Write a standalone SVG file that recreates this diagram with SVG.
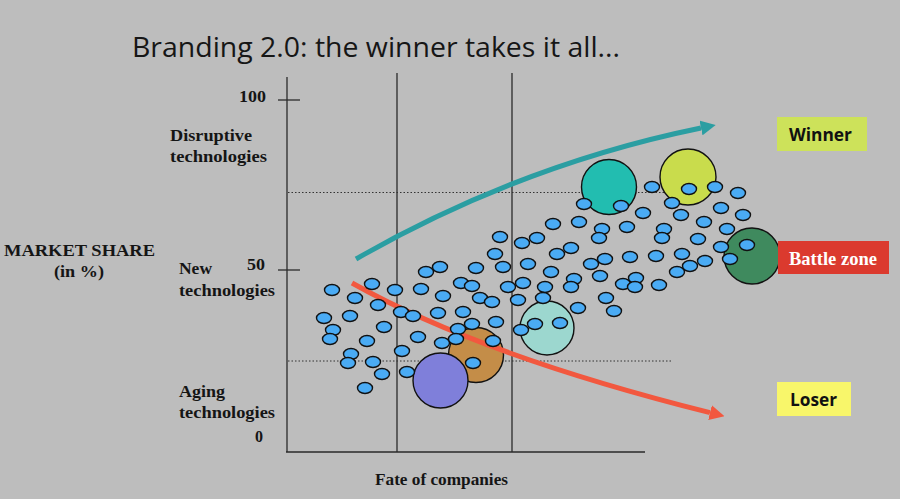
<svg xmlns="http://www.w3.org/2000/svg" width="900" height="499" viewBox="0 0 900 499">
<defs>
<style>
.lbl{font-family:"Liberation Serif","Times New Roman",serif;font-weight:bold;font-size:16.5px;fill:#151515}
.ax{stroke:#2a2a2a;stroke-width:1.3;fill:none}
.dot{stroke:#333;stroke-width:1;stroke-dasharray:1.5 2;fill:none}
.e{fill:#4aabf4;stroke:#111;stroke-width:1.4}
.big{stroke:#111;stroke-width:1.4}
.tag{font-family:"Open Sans","Liberation Sans",sans-serif;font-weight:bold;font-size:18px;fill:#111}
</style>
<marker id="hTeal" markerUnits="userSpaceOnUse" viewBox="0 0 15 15" markerWidth="15" markerHeight="15" refX="0" refY="7.5" orient="auto"><path d="M0,0 L15,7.5 L0,15 z" fill="#2b9ea2"/></marker>
<marker id="hRed" markerUnits="userSpaceOnUse" viewBox="0 0 15 15" markerWidth="15" markerHeight="15" refX="0" refY="7.5" orient="auto"><path d="M0,0 L15,7.5 L0,15 z" fill="#f2583f"/></marker>
</defs>
<rect width="900" height="499" fill="#bdbdbd"/>
<text x="132" y="57" font-family="'Open Sans','Liberation Sans',sans-serif" font-size="28" fill="#161616" textLength="488" lengthAdjust="spacingAndGlyphs">Branding 2.0: the winner takes it all...</text>

<g id="axes">
<line class="ax" x1="287" y1="77" x2="287" y2="452"/>
<line class="ax" x1="286" y1="452" x2="645" y2="452"/>
<line class="ax" x1="397" y1="73" x2="397" y2="452"/>
<line class="ax" x1="512" y1="73" x2="512" y2="452"/>
<line class="ax" x1="278" y1="100" x2="300" y2="100"/>
<line class="ax" x1="278" y1="270" x2="300" y2="270"/>
<line class="dot" x1="288" y1="192.5" x2="672" y2="192.5"/>
<line class="dot" x1="288" y1="361" x2="672" y2="361"/>
</g>

<g id="axis-labels">
<text class="lbl" x="239" y="102" textLength="27" lengthAdjust="spacingAndGlyphs">100</text>
<text class="lbl" x="170" y="141" textLength="82" lengthAdjust="spacingAndGlyphs">Disruptive</text>
<text class="lbl" x="170" y="162" textLength="97" lengthAdjust="spacingAndGlyphs">technologies</text>
<text class="lbl" x="4" y="256" textLength="151" lengthAdjust="spacingAndGlyphs">MARKET SHARE</text>
<text class="lbl" x="54" y="277" textLength="50" lengthAdjust="spacingAndGlyphs">(in %)</text>
<text class="lbl" x="179" y="274" textLength="33" lengthAdjust="spacingAndGlyphs">New</text>
<text class="lbl" x="247" y="270" textLength="18" lengthAdjust="spacingAndGlyphs">50</text>
<text class="lbl" x="179" y="296" textLength="96" lengthAdjust="spacingAndGlyphs">technologies</text>
<text class="lbl" x="179" y="397" textLength="46" lengthAdjust="spacingAndGlyphs">Aging</text>
<text class="lbl" x="179" y="418" textLength="96" lengthAdjust="spacingAndGlyphs">technologies</text>
<text class="lbl" x="255" y="442" textLength="8" lengthAdjust="spacingAndGlyphs">0</text>
<text class="lbl" x="375" y="485" textLength="133" lengthAdjust="spacingAndGlyphs">Fate of companies</text>
</g>

<g id="companies-large">
<circle class="big" cx="609" cy="187" r="27.5" fill="#22bdb0"/>
<circle class="big" cx="688" cy="177" r="28" fill="#c9dc4c"/>
<circle class="big" cx="752" cy="256" r="28" fill="#3f8a5e"/>
<circle class="big" cx="547" cy="328" r="27" fill="#9cd7cf"/>
<circle class="big" cx="476" cy="355" r="27.5" fill="#c48d48"/>
<circle class="big" cx="440.5" cy="380.5" r="27.5" fill="#7f7fda"/>
</g>

<g id="connectors">
<path d="M356,259 Q520,165 701,128" fill="none" stroke="#2b9ea2" stroke-width="5" marker-end="url(#hTeal)"/>
<path d="M352,283 Q480,355 710,412.6" fill="none" stroke="#f2583f" stroke-width="5" marker-end="url(#hRed)"/>
</g>

<g id="companies-small">
<ellipse class="e" cx="426" cy="272" rx="7.5" ry="5.5"/>
<ellipse class="e" cx="440" cy="267" rx="7.5" ry="5.5"/>
<ellipse class="e" cx="476" cy="268" rx="7.5" ry="5.5"/>
<ellipse class="e" cx="372" cy="284" rx="7.5" ry="5.5"/>
<ellipse class="e" cx="332" cy="290" rx="7.5" ry="5.5"/>
<ellipse class="e" cx="395" cy="290" rx="7.5" ry="5.5"/>
<ellipse class="e" cx="421" cy="289" rx="7.5" ry="5.5"/>
<ellipse class="e" cx="461" cy="283" rx="7.5" ry="5.5"/>
<ellipse class="e" cx="472" cy="286" rx="7.5" ry="5.5"/>
<ellipse class="e" cx="355" cy="298" rx="7.5" ry="5.5"/>
<ellipse class="e" cx="378" cy="305" rx="7.5" ry="5.5"/>
<ellipse class="e" cx="443" cy="296" rx="7.5" ry="5.5"/>
<ellipse class="e" cx="480" cy="298" rx="7.5" ry="5.5"/>
<ellipse class="e" cx="492" cy="302" rx="7.5" ry="5.5"/>
<ellipse class="e" cx="324" cy="318" rx="7.5" ry="5.5"/>
<ellipse class="e" cx="350" cy="316" rx="7.5" ry="5.5"/>
<ellipse class="e" cx="401" cy="312" rx="7.5" ry="5.5"/>
<ellipse class="e" cx="413" cy="316" rx="7.5" ry="5.5"/>
<ellipse class="e" cx="438" cy="313" rx="7.5" ry="5.5"/>
<ellipse class="e" cx="463" cy="312" rx="7.5" ry="5.5"/>
<ellipse class="e" cx="333" cy="330" rx="7.5" ry="5.5"/>
<ellipse class="e" cx="330" cy="339" rx="7.5" ry="5.5"/>
<ellipse class="e" cx="384" cy="327" rx="7.5" ry="5.5"/>
<ellipse class="e" cx="418" cy="337" rx="7.5" ry="5.5"/>
<ellipse class="e" cx="458" cy="329" rx="7.5" ry="5.5"/>
<ellipse class="e" cx="472" cy="324" rx="7.5" ry="5.5"/>
<ellipse class="e" cx="496" cy="322" rx="7.5" ry="5.5"/>
<ellipse class="e" cx="367" cy="341" rx="7.5" ry="5.5"/>
<ellipse class="e" cx="442" cy="343" rx="7.5" ry="5.5"/>
<ellipse class="e" cx="456" cy="339" rx="7.5" ry="5.5"/>
<ellipse class="e" cx="493" cy="341" rx="7.5" ry="5.5"/>
<ellipse class="e" cx="402" cy="351" rx="7.5" ry="5.5"/>
<ellipse class="e" cx="351" cy="354" rx="7.5" ry="5.5"/>
<ellipse class="e" cx="348" cy="363" rx="7.5" ry="5.5"/>
<ellipse class="e" cx="373" cy="362" rx="7.5" ry="5.5"/>
<ellipse class="e" cx="473" cy="363" rx="7.5" ry="5.5"/>
<ellipse class="e" cx="382" cy="374" rx="7.5" ry="5.5"/>
<ellipse class="e" cx="407" cy="372" rx="7.5" ry="5.5"/>
<ellipse class="e" cx="365" cy="388" rx="7.5" ry="5.5"/>
<ellipse class="e" cx="584" cy="204" rx="7.5" ry="5.5"/>
<ellipse class="e" cx="621" cy="206" rx="7.5" ry="5.5"/>
<ellipse class="e" cx="643" cy="213" rx="7.5" ry="5.5"/>
<ellipse class="e" cx="553" cy="224" rx="7.5" ry="5.5"/>
<ellipse class="e" cx="579" cy="222" rx="7.5" ry="5.5"/>
<ellipse class="e" cx="602" cy="229" rx="7.5" ry="5.5"/>
<ellipse class="e" cx="599" cy="238" rx="7.5" ry="5.5"/>
<ellipse class="e" cx="627" cy="227" rx="7.5" ry="5.5"/>
<ellipse class="e" cx="500" cy="237" rx="7.5" ry="5.5"/>
<ellipse class="e" cx="522" cy="243" rx="7.5" ry="5.5"/>
<ellipse class="e" cx="537" cy="238" rx="7.5" ry="5.5"/>
<ellipse class="e" cx="495" cy="254" rx="7.5" ry="5.5"/>
<ellipse class="e" cx="557" cy="254" rx="7.5" ry="5.5"/>
<ellipse class="e" cx="571" cy="248" rx="7.5" ry="5.5"/>
<ellipse class="e" cx="503" cy="267" rx="7.5" ry="5.5"/>
<ellipse class="e" cx="528" cy="264" rx="7.5" ry="5.5"/>
<ellipse class="e" cx="551" cy="272" rx="7.5" ry="5.5"/>
<ellipse class="e" cx="591" cy="264" rx="7.5" ry="5.5"/>
<ellipse class="e" cx="605" cy="259" rx="7.5" ry="5.5"/>
<ellipse class="e" cx="630" cy="257" rx="7.5" ry="5.5"/>
<ellipse class="e" cx="523" cy="283" rx="7.5" ry="5.5"/>
<ellipse class="e" cx="545" cy="287" rx="7.5" ry="5.5"/>
<ellipse class="e" cx="574" cy="279" rx="7.5" ry="5.5"/>
<ellipse class="e" cx="571" cy="287" rx="7.5" ry="5.5"/>
<ellipse class="e" cx="600" cy="276" rx="7.5" ry="5.5"/>
<ellipse class="e" cx="623" cy="284" rx="7.5" ry="5.5"/>
<ellipse class="e" cx="636" cy="278" rx="7.5" ry="5.5"/>
<ellipse class="e" cx="635" cy="287" rx="7.5" ry="5.5"/>
<ellipse class="e" cx="508" cy="287" rx="7.5" ry="5.5"/>
<ellipse class="e" cx="543" cy="298" rx="7.5" ry="5.5"/>
<ellipse class="e" cx="518" cy="300" rx="7.5" ry="5.5"/>
<ellipse class="e" cx="578" cy="308" rx="7.5" ry="5.5"/>
<ellipse class="e" cx="606" cy="298" rx="7.5" ry="5.5"/>
<ellipse class="e" cx="614" cy="311" rx="7.5" ry="5.5"/>
<ellipse class="e" cx="521" cy="330" rx="7.5" ry="5.5"/>
<ellipse class="e" cx="535" cy="324" rx="7.5" ry="5.5"/>
<ellipse class="e" cx="560" cy="323" rx="7.5" ry="5.5"/>
<ellipse class="e" cx="652" cy="187" rx="7.5" ry="5.5"/>
<ellipse class="e" cx="689" cy="189" rx="7.5" ry="5.5"/>
<ellipse class="e" cx="715" cy="187" rx="7.5" ry="5.5"/>
<ellipse class="e" cx="738" cy="193" rx="7.5" ry="5.5"/>
<ellipse class="e" cx="672" cy="203" rx="7.5" ry="5.5"/>
<ellipse class="e" cx="681" cy="215" rx="7.5" ry="5.5"/>
<ellipse class="e" cx="721" cy="208" rx="7.5" ry="5.5"/>
<ellipse class="e" cx="743" cy="215" rx="7.5" ry="5.5"/>
<ellipse class="e" cx="664" cy="229" rx="7.5" ry="5.5"/>
<ellipse class="e" cx="662" cy="238" rx="7.5" ry="5.5"/>
<ellipse class="e" cx="704" cy="222" rx="7.5" ry="5.5"/>
<ellipse class="e" cx="727" cy="229" rx="7.5" ry="5.5"/>
<ellipse class="e" cx="698" cy="239" rx="7.5" ry="5.5"/>
<ellipse class="e" cx="721" cy="247" rx="7.5" ry="5.5"/>
<ellipse class="e" cx="747" cy="245" rx="7.5" ry="5.5"/>
<ellipse class="e" cx="730" cy="259" rx="7.5" ry="5.5"/>
<ellipse class="e" cx="656" cy="256" rx="7.5" ry="5.5"/>
<ellipse class="e" cx="682" cy="254" rx="7.5" ry="5.5"/>
<ellipse class="e" cx="705" cy="261" rx="7.5" ry="5.5"/>
<ellipse class="e" cx="690" cy="266" rx="7.5" ry="5.5"/>
<ellipse class="e" cx="677" cy="272" rx="7.5" ry="5.5"/>
<ellipse class="e" cx="659" cy="285" rx="7.5" ry="5.5"/>
</g>

<g id="winner">
<rect x="777" y="117" width="90" height="34" fill="#cde25a"/>
<text class="tag" x="789" y="141" textLength="63" lengthAdjust="spacingAndGlyphs">Winner</text>
</g>
<g id="battle-zone">
<rect x="778" y="241" width="111" height="33" fill="#db3a2e"/>
<text x="789" y="265" font-family="'Liberation Serif','Times New Roman',serif" font-weight="bold" font-size="19" fill="#fff" textLength="88" lengthAdjust="spacingAndGlyphs">Battle zone</text>
</g>
<g id="loser">
<rect x="777" y="382" width="74" height="34" fill="#f8f66a"/>
<text class="tag" x="790" y="406" textLength="47" lengthAdjust="spacingAndGlyphs">Loser</text>
</g>
</svg>
